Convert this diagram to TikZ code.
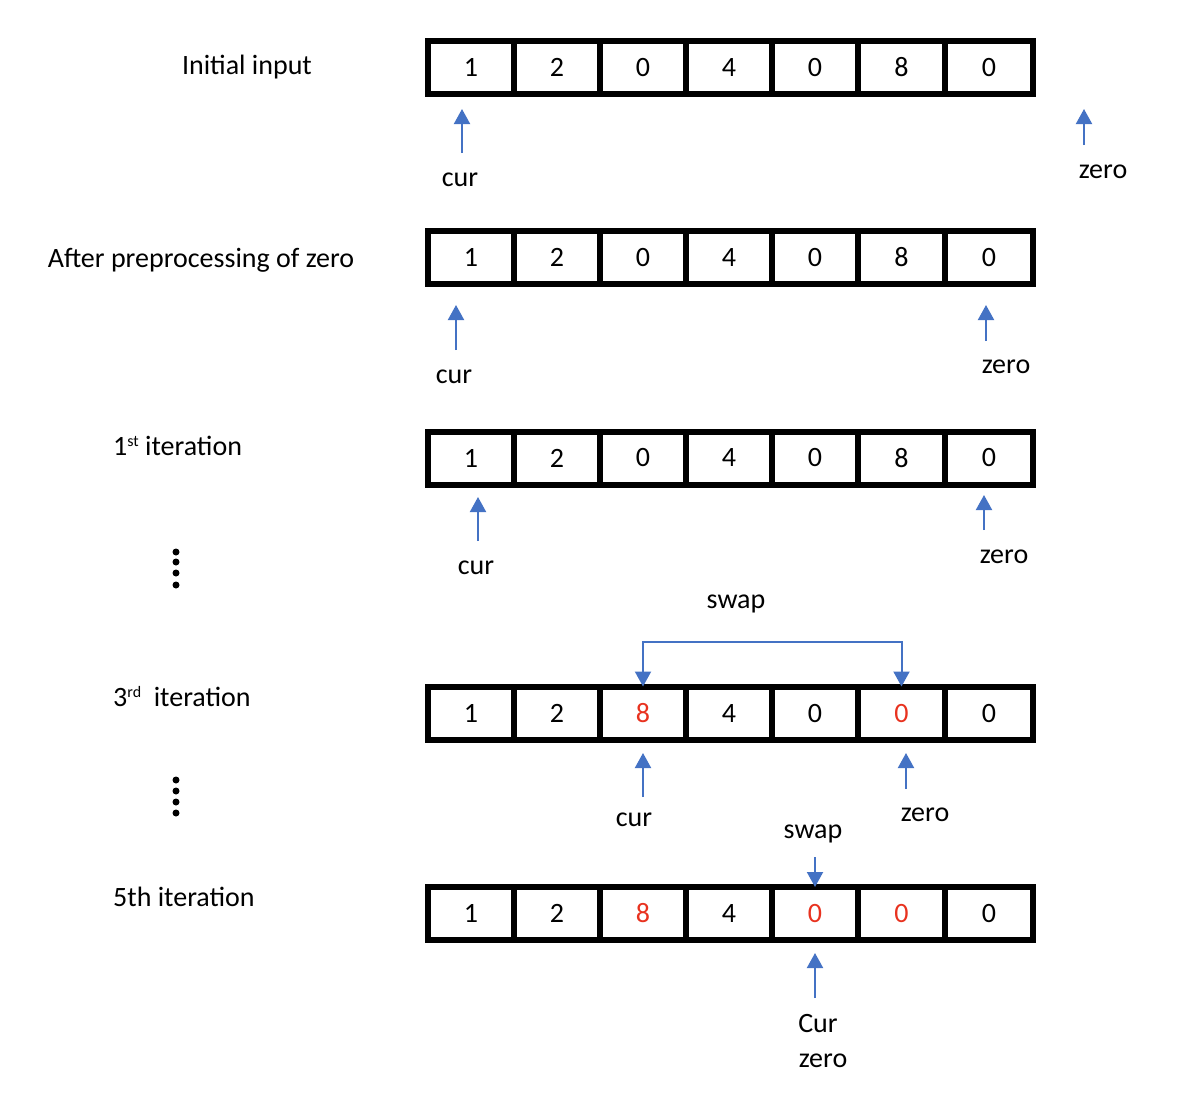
\documentclass[tikz,border=0pt]{standalone}
\usepackage{fontspec}
\setmainfont{Carlito}
\usetikzlibrary{arrows.meta}
\definecolor{arrblue}{HTML}{4472C4}
\definecolor{numred}{HTML}{E8321F}
\tikzset{
  cell/.style={draw=black, line width=6pt, minimum height=53pt, inner sep=0pt, outer sep=0pt, font=\fontsize{28}{33}\selectfont},
  lbl/.style={anchor=base, inner sep=0pt, font=\fontsize{28}{33}\selectfont},
  ptr/.style={draw=arrblue, line width=2pt, -{Triangle[width=16pt,length=15pt]}},
  dbl/.style={draw=arrblue, line width=2pt, {Triangle[width=16pt,length=15pt]}-{Triangle[width=16pt,length=15pt]}},
  dotmark/.style={fill=black, circle, inner sep=0pt, minimum size=7pt}
}
\newcommand\supx[1]{\raisebox{9pt}{\fontsize{16}{18}\selectfont #1}}
\newcommand\mkrow[3]{%
  \foreach \v/\col [count=\k] in {#3} {
    \pgfmathsetmacro\xl{{428,514,600,686,772,858,945,1033}[\k-1]}
    \pgfmathsetmacro\xr{{428,514,600,686,772,858,945,1033}[\k]}
    \node[cell, minimum width=\xr-\xl, text=\col] (#1c\k) at ({(\xl+\xr)/2},#2) {\v\hspace{3pt}};
  }}
\begin{document}
\begin{tikzpicture}[x=1pt,y=-1pt]
\useasboundingbox (0,0) rectangle (1200,1096);

% left labels
\node[lbl] (l1) at (247,74) {Initial input};
\node[lbl] (l2) at (201,267) {After preprocessing of zero};
\node[lbl, anchor=base west] (l3) at (113,455) {1\supx{st} iteration};
\node[lbl, anchor=base west] (l4) at (113,706) {3\supx{rd}\ \ iteration};
\node[lbl, anchor=base west] (l5) at (113,906) {5th iteration};

% vertical dots
\foreach \yy [count=\j] in {552,562,573,585} \node[dotmark] (da\j) at (176,\yy) {};
\foreach \yy [count=\j] in {780,791,802,813} \node[dotmark] (db\j) at (176,\yy) {};

% arrays
\mkrow{ra}{67.5}{1/black,2/black,0/black,4/black,0/black,8/black,0/black}
\mkrow{rb}{257.5}{1/black,2/black,0/black,4/black,0/black,8/black,0/black}
\mkrow{rc}{458}{1/black,2/black,0/black,4/black,0/black,8/black,0/black}
\mkrow{rd}{713}{1/black,2/black,8/numred,4/black,0/black,0/numred,0/black}
\mkrow{re}{913.5}{1/black,2/black,8/numred,4/black,0/numred,0/numred,0/black}

% row 1 pointers
\coordinate (a1t) at (462,153); \coordinate (a1h) at (462,109);
\draw[ptr] (a1t) -- (a1h);
\node[lbl] (a1l) at (460,186) {cur};
\coordinate (z1t) at (1084,145); \coordinate (z1h) at (1084,109);
\draw[ptr] (z1t) -- (z1h);
\node[lbl] (z1l) at (1103,178) {zero};

% row 2 pointers
\coordinate (a2t) at (456,350); \coordinate (a2h) at (456,305);
\draw[ptr] (a2t) -- (a2h);
\node[lbl] (a2l) at (454,383) {cur};
\coordinate (z2t) at (986,341); \coordinate (z2h) at (986,305);
\draw[ptr] (z2t) -- (z2h);
\node[lbl] (z2l) at (1006,373) {zero};

% row 3 pointers
\coordinate (a3t) at (478,541); \coordinate (a3h) at (478,497);
\draw[ptr] (a3t) -- (a3h);
\node[lbl] (a3l) at (476,574) {cur};
\coordinate (z3t) at (984,530); \coordinate (z3h) at (984,495);
\draw[ptr] (z3t) -- (z3h);
\node[lbl] (z3l) at (1004,563) {zero};

% swap bracket row 4
\node[lbl] (sw1) at (736,608) {swap};
\draw[dbl] (rdc3.north) -- ++(0,-45) -| (rdc6.north);

% row 4 pointers
\coordinate (a4t) at (643,797); \coordinate (a4h) at (643,753);
\draw[ptr] (a4t) -- (a4h);
\node[lbl] (a4l) at (634,826) {cur};
\coordinate (z4t) at (906,789); \coordinate (z4h) at (906,753);
\draw[ptr] (z4t) -- (z4h);
\node[lbl] (z4l) at (925,821) {zero};

% row 5
\node[lbl] (sw2) at (813,838) {swap};
\coordinate (s5t) at (815,857);
\draw[ptr] (s5t) -- (rec5.north);
\coordinate (a5t) at (815,998); \coordinate (a5h) at (815,953);
\draw[ptr] (a5t) -- (a5h);
\node[lbl] (a5l) at (818,1032) {Cur};
\node[lbl] (a5z) at (823,1067) {zero};
\end{tikzpicture}
\end{document}
